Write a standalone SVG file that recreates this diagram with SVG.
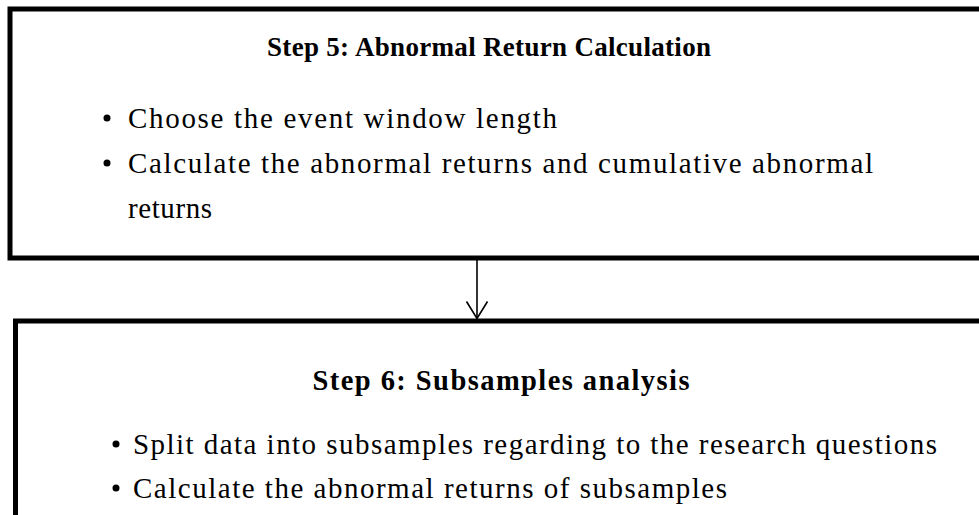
<svg xmlns="http://www.w3.org/2000/svg" width="979" height="515" viewBox="0 0 979 515">
<style>
.box{fill:#fff;stroke:#000;stroke-width:5}
.t{font-family:"Liberation Serif","DejaVu Serif",serif;font-size:29px;fill:#000}
.h{font-weight:bold;text-anchor:middle;font-size:27px}
.b{fill:#000}
.c{stroke:#000;stroke-width:1.6;fill:none}
</style>
<rect width="979" height="515" fill="#fff"/>
<g id="step5">
<rect class="box" x="10" y="9" width="980" height="249"/>
<text class="t h" x="489" y="56" textLength="444">Step 5: Abnormal Return Calculation</text>
<circle class="b" cx="107" cy="118" r="3.5"/>
<text class="t" x="128" y="128" textLength="429">Choose the event window length</text>
<circle class="b" cx="107" cy="163" r="3.5"/>
<text class="t" x="128" y="173" textLength="745">Calculate the abnormal returns and cumulative abnormal</text>
<text class="t" x="128" y="218" textLength="84">returns</text>
</g>
<g id="step6">
<rect class="box" x="15.5" y="321" width="980" height="220"/>
<text class="t h" x="501" y="390" textLength="377" style="font-size:28.5px">Step 6: Subsamples analysis</text>
<circle class="b" cx="116" cy="444" r="3.5"/>
<text class="t" x="133" y="454" textLength="804">Split data into subsamples regarding to the research questions</text>
<circle class="b" cx="116" cy="488" r="3.5"/>
<text class="t" x="133" y="498" textLength="594">Calculate the abnormal returns of subsamples</text>
</g>
<g id="connectors">
<line class="c" x1="477" y1="260" x2="477" y2="318"/>
<polyline class="c" points="466.5,301.5 477,318.5 487.5,301.5"/>
</g>
</svg>
